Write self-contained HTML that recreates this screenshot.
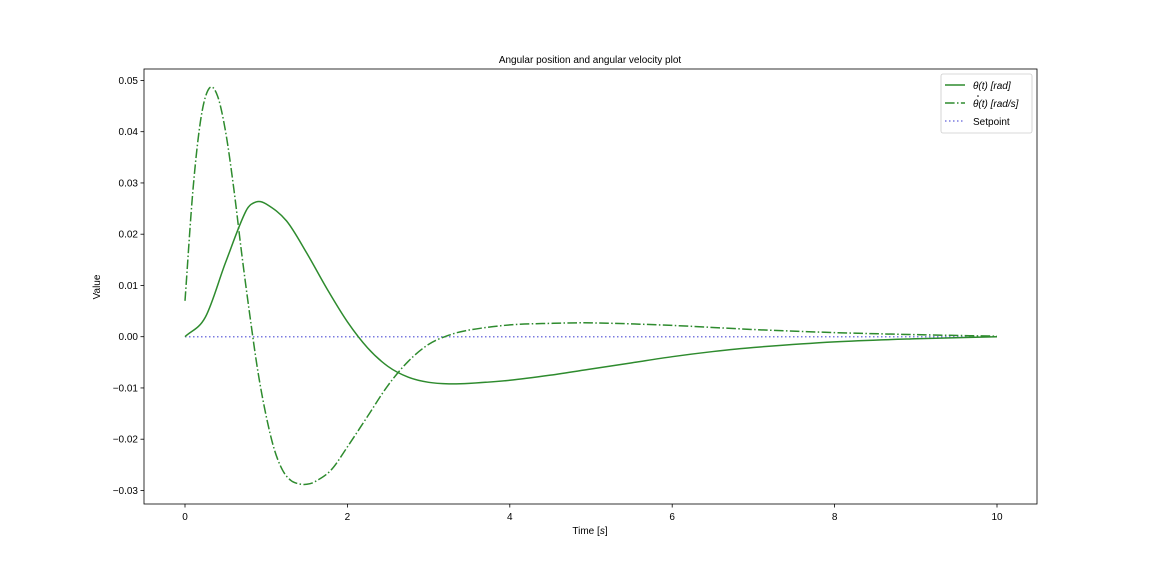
<!DOCTYPE html>
<html><head><meta charset="utf-8"><style>
body{margin:0;background:#fff}
svg text{font-family:"Liberation Sans","DejaVu Sans",sans-serif;font-size:10px;fill:#000}
</style></head><body>
<svg id="chart" width="1152" height="576" xmlns="http://www.w3.org/2000/svg">
<rect width="1152" height="576" fill="#fff"/>
<g id="plot"></g>
</svg>
<script>
const thetaT=[0,0.25,0.5,0.75,0.875,1.0,1.25,1.5,1.75,2.0,2.25,2.5,2.75,3.0,3.25,3.5,4,4.5,5,5.5,6,6.5,7,8,9,10];
const thetaV=[0,0.0038,0.0145,0.0245,0.0263,0.0259,0.0226,0.0163,0.0093,0.0029,-0.0022,-0.0058,-0.0079,-0.0089,-0.0092,-0.0091,-0.0085,-0.0075,-0.0063,-0.0051,-0.0039,-0.0029,-0.0021,-0.0010,-0.0004,0];
const dotT=[0,0.1,0.2,0.3,0.4,0.5,0.6,0.7,0.8,0.9,1.0,1.1,1.2,1.3,1.4,1.5,1.6,1.8,2.0,2.25,2.5,2.75,3.0,3.25,3.5,4,4.5,5,6,7,8,9,10];
const dotV=[0.007,0.029,0.043,0.0485,0.047,0.040,0.029,0.016,0.004,-0.007,-0.0155,-0.022,-0.026,-0.028,-0.0287,-0.0288,-0.0283,-0.026,-0.0215,-0.0155,-0.0095,-0.0048,-0.0015,0.0003,0.0013,0.0023,0.0026,0.0027,0.0022,0.0014,0.0008,0.0004,0.0001];
const setT=[0,10];
const setV=[0,0];
const xTicks=[0,2,4,6,8,10];
const yTicks=[-0.03,-0.02,-0.01,0,0.01,0.02,0.03,0.04,0.05];
const yTickLabels=["\u22120.03","\u22120.02","\u22120.01","0.00","0.01","0.02","0.03","0.04","0.05"];
const L=144,R=1037,T=69,B=504;
const X=t=>185+t*81.2;
const Y=v=>336.7-v*5125;
const NS="http://www.w3.org/2000/svg";
const g=document.getElementById('plot');
function mk(tag,a){const e=document.createElementNS(NS,tag);for(const k in a)e.setAttribute(k,a[k]);g.appendChild(e);return e;}
function smooth(ts,vs){const p=ts.map((t,i)=>[X(t),Y(vs[i])]);let d=`M${p[0][0]},${p[0][1]}`;
for(let i=0;i<p.length-1;i++){const p0=p[i-1]||p[i],p1=p[i],p2=p[i+1],p3=p[i+2]||p2;
const dx=p2[0]-p1[0];
const s1=(p2[1]-p0[1])/((p2[0]-p0[0])||1), s2=(p3[1]-p1[1])/((p3[0]-p1[0])||1);
const c1=[p1[0]+dx/3,p1[1]+s1*dx/3],c2=[p2[0]-dx/3,p2[1]-s2*dx/3];
d+=`C${c1[0]},${c1[1]} ${c2[0]},${c2[1]} ${p2[0]},${p2[1]}`;}return d;}
let e;
e=mk('path',{d:smooth(setT,setV),stroke:'#7b7be0',fill:'none','stroke-width':1.5,'stroke-dasharray':'1.5,2.5'});


e=mk('path',{d:smooth(thetaT,thetaV),stroke:'#2e8b2e',fill:'none','stroke-width':1.5});


e=mk('path',{d:smooth(dotT,dotV),stroke:'#2e8b2e',fill:'none','stroke-width':1.5,'stroke-dasharray':'9.6,2.4,1.5,2.4'});


e=mk('rect',{x:L,y:T,width:R-L,height:B-T,fill:'none',stroke:'#000','stroke-width':0.8});


xTicks.forEach(t=>{
e=mk('line',{x1:X(t),x2:X(t),y1:B,y2:B+3.5,stroke:'#000','stroke-width':0.8});


e=mk('text',{x:X(t),y:B+16,'text-anchor':'middle'});e.textContent=t;


});
yTicks.forEach((v,i)=>{
e=mk('line',{x1:L-3.5,x2:L,y1:Y(v),y2:Y(v),stroke:'#000','stroke-width':0.8});


e=mk('text',{x:L-6,y:Y(v)+3.5,'text-anchor':'end'});e.textContent=yTickLabels[i];


});
e=mk('text',{x:590,y:63,'text-anchor':'middle','font-size':12});e.textContent='Angular position and angular velocity plot';


e=mk('text',{x:590,y:534,'text-anchor':'middle'});e.innerHTML='Time [<tspan font-style="italic">s</tspan>]';


e=mk('text',{x:100,y:287,'text-anchor':'middle',transform:'rotate(-90 100 287)'});e.textContent='Value';


e=mk('rect',{x:941,y:74,width:91,height:59,rx:2,fill:'#fff',stroke:'#ccc','stroke-width':0.8});


const leg=[['#2e8b2e','', 'θ(t) [rad]',89],['#2e8b2e','9.6,2.4,1.5,2.4','θ(t) [rad/s]',107],['#7b7be0','1.5,2.5','Setpoint',125]];
leg.forEach(l=>{
e=mk('line',{x1:945,x2:965,y1:l[3]-4,y2:l[3]-4,stroke:l[0],'stroke-width':1.5,'stroke-dasharray':l[1]||'none'});


e=mk('text',{x:973,y:l[3],'font-style':l[2]==='Setpoint'?'normal':'italic'});e.textContent=l[2];


});
e=mk('circle',{cx:978,cy:96,r:0.8,fill:'#000'});


</script>
</body></html>
